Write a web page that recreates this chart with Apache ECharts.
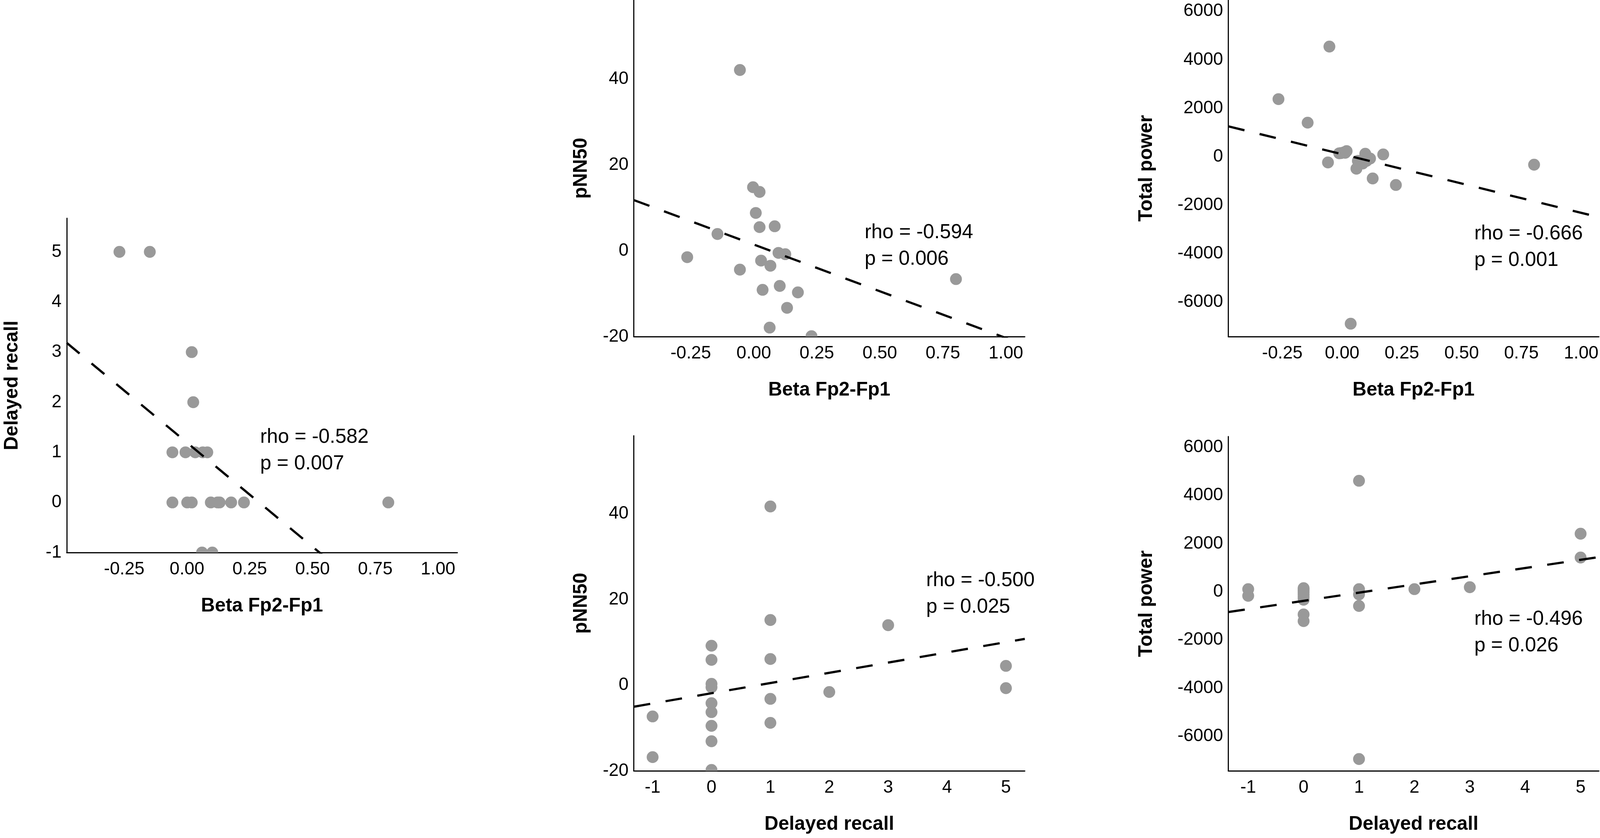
<!DOCTYPE html>
<html>
<head>
<meta charset="utf-8">
<script src="https://cdn.jsdelivr.net/npm/echarts@6/dist/echarts.min.js"></script>
<style>
html,body{margin:0;padding:0;background:#fff;overflow:hidden;}
#chart{width:100vw;height:100vh;}
</style>
</head>
<body>
<div id="chart"></div>
<script>
// ---------- tick labels ----------
const betaTicks = [-0.25, 0, 0.25, 0.5, 0.75, 1.0];
const recallTicks = [-1, 0, 1, 2, 3, 4, 5];
const pnnTicks = [-20, 0, 20, 40];
const tpTicks = [-6000, -4000, -2000, 0, 2000, 4000, 6000];

// ---------- panel 1: Delayed recall vs Beta Fp2-Fp1 ----------
const p1Beta = [-0.269, -0.148, 0.019, 0.025, -0.058, -0.006, 0.033, 0.063, 0.081, -0.058,
                0.001, 0.019, 0.095, 0.122, 0.130, 0.176, 0.227, 0.802, 0.060, 0.101];
const p1Recall = [5, 5, 3, 2, 1, 1, 1, 1, 1, 0, 0, 0, 0, 0, 0, 0, 0, 0, -1, -1];

// ---------- panel 2: pNN50 vs Beta Fp2-Fp1 ----------
const p2Beta = [-0.055, -0.003, 0.023, 0.008, 0.023, 0.083, -0.144, -0.264, 0.098, 0.125,
                0.029, 0.066, -0.055, 0.035, 0.103, 0.175, 0.132, 0.063, 0.229, 0.802];
const p2Pnn = [42.1, 14.8, 13.7, 8.8, 5.5, 5.7, 3.9, -1.5, -0.5, -0.8,
               -2.3, -3.5, -4.4, -9.1, -8.2, -9.7, -13.3, -17.9, -19.9, -6.6];

// ---------- panel 3: Total power vs Beta Fp2-Fp1 ----------
const p3Beta = [-0.266, -0.144, -0.053, -0.059, 0.803, 0.036, -0.012, -0.004, 0.008, 0.013,
                0.019, 0.060, 0.066, 0.086, 0.097, 0.102, 0.117, 0.172, 0.128, 0.225];
const p3Tp = [2375, 1404, 4544, -237, -330, -6888, 140, 150, 180, 160,
              230, -494, -173, -280, 122, -173, -76, 95, -897, -1166];

// ---------- panel 4: pNN50 vs Delayed recall ----------
const p4Recall = [-1, -1, 0, 0, 0, 0, 0, 0, 0, 0, 0, 1, 1, 1, 1, 1, 2, 3, 5, 5];
const p4Pnn = [-7.3, -16.8, 9.2, 5.9, 0.3, -0.5, -4.2, -6.3, -9.5, -13.1, -19.8,
               41.7, 15.2, 6.1, -3.2, -8.8, -1.6, 14.0, 4.5, -0.7];

// ---------- panel 5: Total power vs Delayed recall ----------
const p5Recall = [-1, -1, 0, 0, 0, 0, 0, 0, 0, 0, 0, 1, 1, 1, 1, 1, 2, 3, 5, 5];
const p5Tp = [110, -167, 150, 100, 40, -30, -120, -220, -330, -940, -1217,
              4606, 110, -111, -589, -6939, 110, 189, 2409, 1421];

// ---------- correlation annotations ----------
const statLines = [
  ['rho = -0.582', 'p = 0.007'],
  ['rho = -0.594', 'p = 0.006'],
  ['rho = -0.666', 'p = 0.001'],
  ['rho = -0.500', 'p = 0.025'],
  ['rho = -0.496', 'p = 0.026']
];

// ---------- layout (designed for 4317 x 2146, scaled to the real viewport) ----------
const FONT = "'Liberation Sans', Arial, sans-serif";
const DOT = '#999999';
const el = document.getElementById('chart');
const W = el.clientWidth || 4317, H = el.clientHeight || 2146;
const sx = W / 4317, sy = H / 2146, sf = Math.min(sx, sy);

const panels = [
  {grid:{left:180, top:559, width:1054, height:856}, xr:[-0.479,1.077], yr:[-1,5.67],
   xs:p1Beta, ys:p1Recall, xt:betaTicks, yt:recallTicks, xf:2, xn:'Beta Fp2-Fp1', yn:'Delayed recall', yGap:121, txt:[702,1086]},
  {grid:{left:1710, top:0, width:1055, height:862}, xr:[-0.476,1.075], yr:[-20,58.4],
   xs:p2Beta, ys:p2Pnn, xt:betaTicks, yt:pnnTicks, xf:2, xn:'Beta Fp2-Fp1', yn:'pNN50', yGap:115, txt:[2333,562]},
  {grid:{left:3314, top:0, width:1000, height:862}, xr:[-0.476,1.074], yr:[-7421,6464],
   xs:p3Beta, ys:p3Tp, xt:betaTicks, yt:tpTicks, xf:2, xn:'Beta Fp2-Fp1', yn:'Total power', yGap:194, txt:[3978,565]},
  {grid:{left:1710, top:1116, width:1055, height:858}, xr:[-1.32,5.32], yr:[-20,58.2],
   xs:p4Recall, ys:p4Pnn, xt:recallTicks, yt:pnnTicks, xf:0, xn:'Delayed recall', yn:'pNN50', yGap:115, txt:[2499,1453]},
  {grid:{left:3314, top:1118, width:1000, height:856}, xr:[-1.36,5.33], yr:[-7430,6440],
   xs:p5Recall, ys:p5Tp, xt:recallTicks, yt:tpTicks, xf:0, xn:'Delayed recall', yn:'Total power', yGap:194, txt:[3978,1552]}
];

function ols(xs, ys) {
  const n = xs.length;
  const mx = xs.reduce((a, b) => a + b, 0) / n;
  const my = ys.reduce((a, b) => a + b, 0) / n;
  let sxy = 0, sxx = 0;
  for (let i = 0; i < n; i++) { sxy += (xs[i] - mx) * (ys[i] - my); sxx += (xs[i] - mx) * (xs[i] - mx); }
  const b = sxy / sxx;
  return {a: my - b * mx, b: b};
}

const DOT_R = 16 * sf;
function renderDot(params, api) {
  const pt = api.coord([api.value(0), api.value(1)]);
  return {type: 'circle', shape: {cx: pt[0], cy: pt[1], r: DOT_R}, style: {fill: DOT}};
}

const grids = [], xAxes = [], yAxes = [], series = [], graphics = [];
const axisCommon = {
  axisTick: {show: false},
  splitLine: {show: false},
  axisLine: {show: true, onZero: false, lineStyle: {color: '#000', width: 3 * sf}}
};
const nameStyle = {fontSize: 52 * sf, fontWeight: 'bold', fontFamily: FONT, color: '#000'};

panels.forEach((p, i) => {
  grids.push({containLabel: false, outerBoundsMode: 'none',
    left: p.grid.left * sx, top: p.grid.top * sy, width: p.grid.width * sx, height: p.grid.height * sy});
  xAxes.push(Object.assign({}, axisCommon, {
    type: 'value', gridIndex: i, min: p.xr[0], max: p.xr[1],
    name: p.xn, nameLocation: 'middle', nameGap: 113 * sy,
    nameTextStyle: nameStyle,
    axisLabel: {customValues: p.xt, fontSize: 48 * sf, fontFamily: FONT, color: '#000', margin: 20 * sy,
      formatter: (v) => Number(v).toFixed(p.xf)}
  }));
  yAxes.push(Object.assign({}, axisCommon, {
    type: 'value', gridIndex: i, min: p.yr[0], max: p.yr[1],
    name: p.yn, nameLocation: 'middle', nameGap: p.yGap * sx, nameRotate: 90,
    nameTextStyle: nameStyle,
    axisLabel: {customValues: p.yt, fontSize: 48 * sf, fontFamily: FONT, color: '#000', margin: 14 * sx,
      formatter: (v) => String(Math.round(v))}
  }));
  // scatter points drawn as circles through the axis scales, clipped to the plot area
  series.push({
    type: 'custom', xAxisIndex: i, yAxisIndex: i,
    data: p.xs.map((x, k) => [x, p.ys[k]]),
    encode: {x: 0, y: 1},
    renderItem: renderDot,
    clip: true,
    z: 2
  });
  const fit = ols(p.xs, p.ys);
  series.push({
    type: 'line', xAxisIndex: i, yAxisIndex: i,
    data: [[p.xr[0], fit.a + fit.b * p.xr[0]], [p.xr[1], fit.a + fit.b * p.xr[1]]],
    symbol: 'none', clip: true, silent: true,
    lineStyle: {color: '#000', width: 6 * sf, type: [45 * sf, 42 * sf]},
    z: 3
  });
  graphics.push({
    type: 'text', x: p.txt[0] * sx, y: p.txt[1] * sy, z: 10,
    style: {text: statLines[i].join('\n'), fontSize: 54 * sf, fontFamily: FONT, fill: '#000',
      lineHeight: 68 * sy, align: 'left', verticalAlign: 'top'}
  });
});

const chart = echarts.init(el, null, {renderer: 'canvas'});
chart.setOption({
  backgroundColor: '#ffffff',
  animation: false,
  grid: grids,
  xAxis: xAxes,
  yAxis: yAxes,
  series: series,
  graphic: graphics
});
</script>
</body>
</html>
